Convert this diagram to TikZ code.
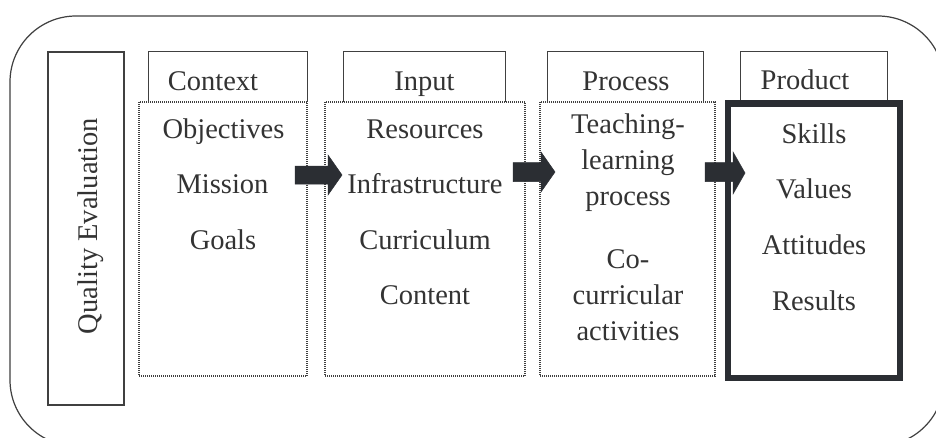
\documentclass[tikz,border=0pt]{standalone}
\usepackage{fontspec}
\setmainfont{Liberation Serif}
\definecolor{ln}{HTML}{404040}
\definecolor{tx}{HTML}{333333}
\definecolor{dk}{HTML}{2B2E33}
\begin{document}
\begin{tikzpicture}[x=1pt,y=-1pt,
  txt/.style={inner sep=0pt,anchor=base,text=tx,font=\fontsize{28.5}{34}\selectfont},
  hdr/.style={inner sep=0pt},
  hdrline/.style={draw=ln,line width=1.1pt},
  dotbox/.style={draw=ln,line width=1.2pt,dash pattern=on 1pt off 1pt},
  thick box/.style={draw=dk,line width=6.5pt},
  blk/.style={fill=dk,draw=dk,line width=0.5pt,line join=miter}]
\useasboundingbox (0,0) rectangle (936,437);
\clip (0,0) rectangle (936,437);
\fill[white] (0,0) rectangle (936,437);
% outer rounded frame
\draw[draw=ln,line width=1.2pt,rounded corners=66pt] (10,16) rectangle (944,446);
% quality evaluation box
\node[draw=ln,line width=1.2pt,minimum width=76pt,minimum height=353pt,inner sep=0pt] (qe) at (86,228.5) {};
\node[txt,rotate=90] (qet) at (97,226) {Quality Evaluation};
% headers
\node[hdr,minimum width=158pt,minimum height=50pt] (h1) at (228,77) {};
\node[hdr,minimum width=161pt,minimum height=50pt] (h2) at (424.5,77) {};
\node[hdr,minimum width=155pt,minimum height=50pt] (h3) at (625.5,77) {};
\node[hdr,minimum width=146pt,minimum height=48pt] (h4) at (814,76) {};
\draw[hdrline] (h1.south west) |- (h1.north east) -- (h1.south east);
\draw[hdrline] (h2.south west) |- (h2.north east) -- (h2.south east);
\draw[hdrline] (h3.south west) |- (h3.north east) -- (h3.south east);
\draw[hdrline] (h4.south west) |- (h4.north east) -- (h4.south east);
\node[txt] (h1t) at (213,90) {Context};
\node[txt] (h2t) at (424.5,90) {Input};
\node[txt] (h3t) at (626,90) {Process};
\node[txt] (h4t) at (805,89) {Product};
% body boxes
\node[dotbox,minimum width=168pt,minimum height=274pt,inner sep=0pt] (b1) at (223,239) {};
\node[dotbox,minimum width=200pt,minimum height=274pt,inner sep=0pt] (b2) at (425,239) {};
\node[dotbox,minimum width=175pt,minimum height=274pt,inner sep=0pt] (b3) at (627.5,239) {};
\node[thick box,minimum width=172pt,minimum height=274.5pt,inner sep=0pt] (b4) at (814,240.75) {};
% texts
\node[txt] (t11) at (223.5,138) {Objectives};
\node[txt] (t12) at (222.5,193) {Mission};
\node[txt] (t13) at (223,249) {Goals};
\node[txt] (t21) at (425,138) {Resources};
\node[txt] (t22) at (425,193) {Infrastructure};
\node[txt] (t23) at (425,249) {Curriculum};
\node[txt] (t24) at (425,304) {Content};
\node[txt] (t31) at (628,133) {Teaching-};
\node[txt] (t32) at (628,169) {learning};
\node[txt] (t33) at (628,205) {process};
\node[txt] (t34) at (628,268) {Co-};
\node[txt] (t35) at (628,304) {curricular};
\node[txt] (t36) at (628,340) {activities};
\node[txt] (t41) at (814,143) {Skills};
\node[txt] (t42) at (814,198) {Values};
\node[txt] (t43) at (814,254) {Attitudes};
\node[txt] (t44) at (814,310) {Results};
% block arrows
\draw[blk] (295,166) -- (328,166) -- (328,155) -- (342,175) -- (328,195) -- (328,184) -- (295,184) -- cycle;
\draw[blk] (513,162.5) -- (541,162.5) -- (541,152) -- (555,172) -- (541,192) -- (541,181.5) -- (513,181.5) -- cycle;
\draw[blk] (705,162.5) -- (733,162.5) -- (733,152) -- (745,173) -- (733,194) -- (733,181.5) -- (705,181.5) -- cycle;
\end{tikzpicture}
\end{document}
